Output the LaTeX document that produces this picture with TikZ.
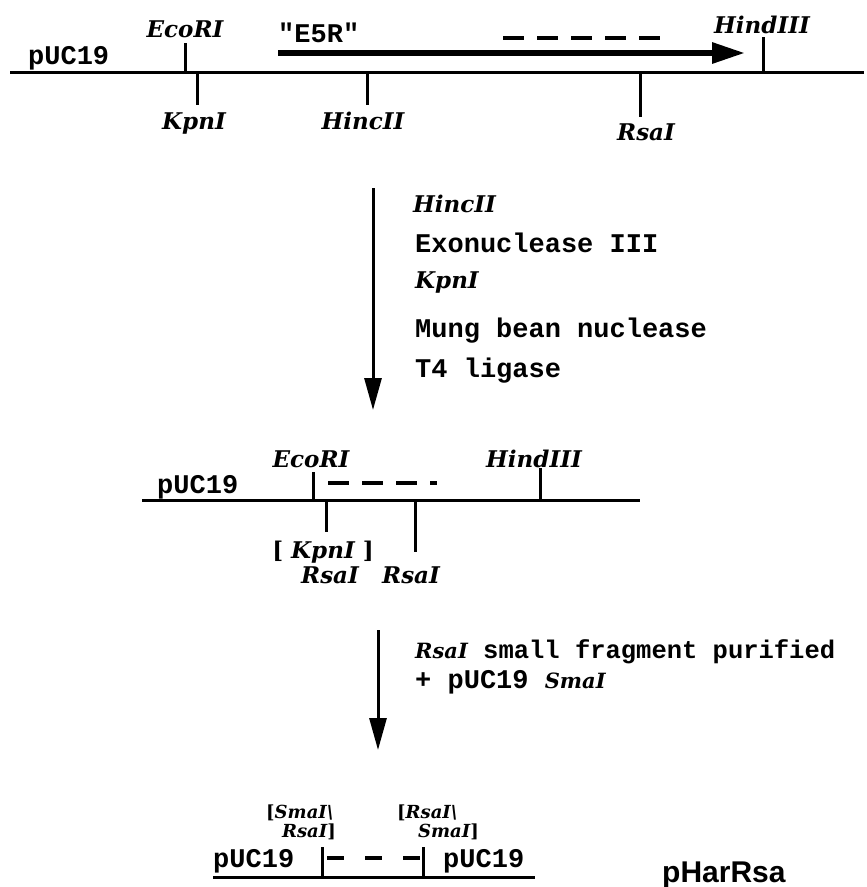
\documentclass[tikz,border=0pt]{standalone}
\usepackage{fontspec}
\setmainfont{Liberation Serif}
\setmonofont{Liberation Mono}
\newfontfamily\enzfont{DejaVu Serif}
\newfontfamily\plasfont{Liberation Sans}
\usetikzlibrary{arrows.meta}
\newcommand\enz[1]{{\fontsize{21}{21}\selectfont\enzfont\bfseries\itshape #1}}

\begin{document}
\begin{tikzpicture}[x=1pt,y=-1pt,
    enzyme/.style={font=\fontsize{23}{23}\selectfont\enzfont\bfseries\itshape, inner sep=0pt},
    smallenzyme/.style={font=\fontsize{18}{18}\selectfont\enzfont\bfseries\itshape, inner sep=0pt},
    mono/.style={font=\fontsize{27}{27}\selectfont\ttfamily\bfseries, inner sep=0pt},
    dna/.style={line width=3pt},
    cut/.style={line width=3pt},
    gap/.style={line width=4.5pt, dash pattern=on 21pt off 13pt},
    gene/.style={line width=6pt, -{Triangle[length=33pt,width=20pt]}},
    stage/.style={line width=3pt, -{Triangle[length=32pt,width=17pt]}}]
    \useasboundingbox (0,0) rectangle (867,887);

    % Row 1 pUC19 + E5R
    % Strand
    \coordinate (dnaAl) at (10,72);
    \coordinate (dnaAr) at (864,72);
    \draw[dna] (dnaAl) -- (dnaAr);
    \node[mono, anchor=base west] (pucA) at (28,64) {pUC19};

    % Sites
    \coordinate (ecoA)   at (185,72);
    \coordinate (ecoAt)  at (185,43);
    \coordinate (kpnA)   at (197,72);
    \coordinate (kpnAb)  at (197,105);
    \coordinate (hincA)  at (367,72);
    \coordinate (hincAb) at (367,105);
    \coordinate (rsaA)   at (640,72);
    \coordinate (rsaAb)  at (640,117);
    \coordinate (hindA)  at (763,72);
    \coordinate (hindAt) at (763,37);
    \node[enzyme, anchor=base] (ecoAlab)  at (185,37)  {EcoRI};
    \node[enzyme, anchor=base] (kpnAlab)  at (194,129) {KpnI};
    \node[enzyme, anchor=base] (hincAlab) at (363,129) {HincII};
    \node[enzyme, anchor=base] (rsaAlab)  at (646,140) {RsaI};
    \node[enzyme, anchor=base] (hindAlab) at (762,33)  {HindIII};

    % Cuts
    \draw[cut] (ecoA) -- (ecoAt);
    \draw[cut] (kpnA) -- (kpnAb);
    \draw[cut] (hincA) -- (hincAb);
    \draw[cut] (rsaA) -- (rsaAb);
    \draw[cut] (hindA) -- (hindAt);

    % Gene
    \coordinate (geneS) at (278,53);
    \coordinate (geneE) at (745,53);
    \draw[gene] (geneS) -- (geneE);
    \node[mono, anchor=base west] (e5r) at (278,42) {"E5R"};
    \coordinate (delAs) at (503,38);
    \coordinate (delAe) at (660,38);
    \draw[gap] (delAs) -- (delAe);

    % Step 1
    \coordinate (stepAs) at (373,188);
    \coordinate (stepAe) at (373,410);
    \draw[stage] (stepAs) -- (stepAe);
    \node[enzyme, anchor=base west] (stHinc) at (413,212) {HincII};
    \node[mono, anchor=base west] (stExo) at (415,252) {Exonuclease III};
    \node[enzyme, anchor=base west] (stKpn) at (415,288) {KpnI};
    \node[mono, anchor=base west] (stMung) at (415,337) {Mung bean nuclease};
    \node[mono, anchor=base west] (stLig) at (415,377) {T4 ligase};

    % Row 2 deletion
    % Strand
    \coordinate (dnaBl) at (142,500);
    \coordinate (dnaBr) at (640,500);
    \draw[dna] (dnaBl) -- (dnaBr);
    \node[mono, anchor=base west] (pucB) at (157,493) {pUC19};

    % Sites
    \coordinate (ecoB)   at (313,500);
    \coordinate (ecoBt)  at (313,472);
    \coordinate (hindB)  at (540,500);
    \coordinate (hindBt) at (540,468);
    \coordinate (kpnB)   at (326,500);
    \coordinate (kpnBb)  at (326,532);
    \coordinate (rsaB)   at (415,500);
    \coordinate (rsaBb)  at (415,552);
    \node[enzyme, anchor=base] (ecoBlab)  at (311,467) {EcoRI};
    \node[enzyme, anchor=base] (hindBlab) at (534,467) {HindIII};
    \node[enzyme, anchor=base] (kpnBlab)  at (323,558) {{\upshape[} KpnI {\upshape]}};
    \node[enzyme, anchor=base] (rsaBlab)  at (330,583) {RsaI};
    \node[enzyme, anchor=base] (rsaCBlab) at (411,583) {RsaI};

    % Cuts
    \draw[cut] (ecoB) -- (ecoBt);
    \draw[cut] (hindB) -- (hindBt);
    \draw[cut] (kpnB) -- (kpnBb);
    \draw[cut] (rsaB) -- (rsaBb);
    \coordinate (delBs) at (328,483);
    \coordinate (delBe) at (437,483);
    \draw[gap] (delBs) -- (delBe);

    % Step 2
    \coordinate (stepBs) at (378,630);
    \coordinate (stepBe) at (378,750);
    \draw[stage] (stepBs) -- (stepBe);
    \node[mono, font=\fontsize{25.5}{25.5}\selectfont\ttfamily\bfseries, anchor=base west] (stFrag) at (415,658) {\enz{RsaI} small fragment purified};
    \node[mono, anchor=base west] (stSma) at (415,688) {+ pUC19 \enz{SmaI}};

    % Row 3 pHarRsa
    % Strand
    \coordinate (dnaCl) at (213,877);
    \coordinate (dnaCr) at (535,877);
    \draw[dna] (dnaCl) -- (dnaCr);
    \node[mono, anchor=base west] (pucCl) at (213,867) {pUC19};
    \node[mono, anchor=base west] (pucCr) at (443,867) {pUC19};

    % Junctions
    \coordinate (junL)  at (322,877);
    \coordinate (junLt) at (322,847);
    \coordinate (junR)  at (423,877);
    \coordinate (junRt) at (423,847);
    \draw[cut] (junL) -- (junLt);
    \draw[cut] (junR) -- (junRt);
    \coordinate (delCs) at (327,858);
    \coordinate (delCe) at (420,858);
    \draw[gap, dash pattern=on 17pt off 21pt] (delCs) -- (delCe);
    \node[smallenzyme, anchor=base west] (junLa) at (266,818) {{\upshape[}SmaI\textbackslash};
    \node[smallenzyme, anchor=base east] (junLb) at (336,837) {RsaI{\upshape]}};
    \node[smallenzyme, anchor=base west] (junRa) at (397,818) {{\upshape[}RsaI\textbackslash};
    \node[smallenzyme, anchor=base west] (junRb) at (418,837) {SmaI{\upshape]}};

    \node[font=\fontsize{30}{30}\selectfont\plasfont\bfseries, inner sep=0pt, anchor=base west] (phar) at (662,882) {pHarRsa};

\end{tikzpicture}
\end{document}
